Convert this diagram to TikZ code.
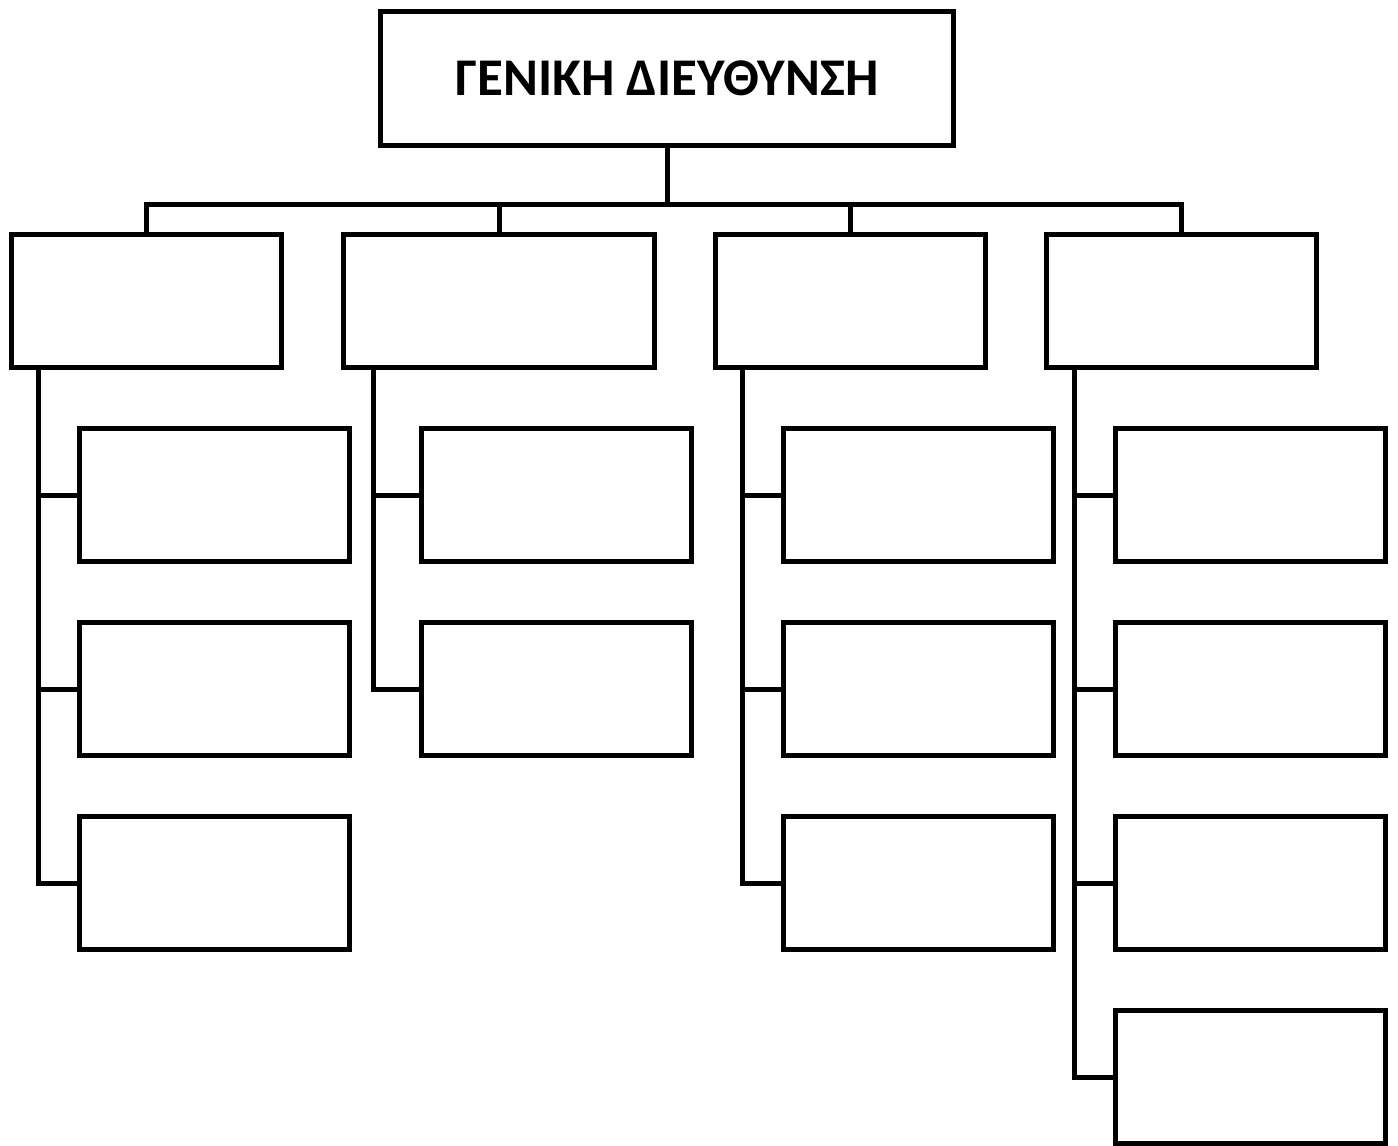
\documentclass[tikz,border=0pt]{standalone}
\usepackage{fontspec}
\setmainfont{Carlito}
\tikzset{
  box/.style={draw=black, line width=2.5pt, minimum width=135pt, minimum height=66.5pt, inner sep=0pt},
  link/.style={draw=black, line width=2.5pt},
}
\begin{document}
\begin{tikzpicture}[x=0.5pt, y=-0.5pt]
	\useasboundingbox (0,0) rectangle (1398,1146);
	
	% top
	\node[box, minimum width=286.5pt, minimum height=67pt, font=\bfseries\fontsize{26.5}{30}\selectfont] (gd) at (667,78.5) {ΓΕΝΙΚΗ ΔΙΕΥΘΥΝΣΗ};
	
	% departments
	\node[box] (d1) at (146.5,301) {};
	\node[box, minimum width=155.5pt] (d2) at (499,301) {};
	\node[box] (d3) at (850.5,301) {};
	\node[box] (d4) at (1181.5,301) {};
	
	% sections
	\foreach \r/\y in {1/495,2/689,3/883}
		\node[box] (s1-\r) at (214.5,\y) {};
	\foreach \r/\y in {1/495,2/689}
		\node[box] (s2-\r) at (556.5,\y) {};
	\foreach \r/\y in {1/495,2/689,3/883}
		\node[box] (s3-\r) at (918.5,\y) {};
	\foreach \r/\y in {1/495,2/689,3/883,4/1077}
		\node[box] (s4-\r) at (1250.5,\y) {};
	
	% bus
	\coordinate (bus) at (667,204);
	\draw[link] (gd.south) -- (bus);
	\foreach \i in {1,...,4}
		\draw[link] (d\i.north) |- (bus);
	
	% spines
	\coordinate (k1) at ([xshift=14.5pt]d1.south west);
	\coordinate (k2) at ([xshift=16pt]d2.south west);
	\coordinate (k3) at ([xshift=14.5pt]d3.south west);
	\coordinate (k4) at ([xshift=15pt]d4.south west);
	\foreach \r in {1,2,3} \draw[link] (k1) |- (s1-\r.west);
	\foreach \r in {1,2} \draw[link] (k2) |- (s2-\r.west);
	\foreach \r in {1,2,3} \draw[link] (k3) |- (s3-\r.west);
	\foreach \r in {1,...,4} \draw[link] (k4) |- (s4-\r.west);
	
\end{tikzpicture}
\end{document}
